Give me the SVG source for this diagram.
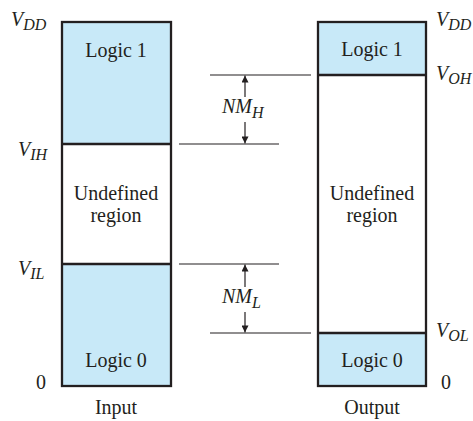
<svg xmlns="http://www.w3.org/2000/svg" width="473" height="421" viewBox="0 0 473 421">
<defs>
<style>
.box{fill:#c8e9f8;stroke:none}
.frame{fill:none;stroke:#231f20;stroke-width:2.3}
.div{stroke:#231f20;stroke-width:2.3}
.ln{stroke:#231f20;stroke-width:1.2}
text{font-family:'Liberation Serif','Times New Roman','DejaVu Serif',serif;font-size:20px;fill:#231f20}
.c{text-anchor:middle}
.i{font-style:italic}
.s{font-size:16px}
</style>
<marker id="ah" viewBox="0 0 10 10" refX="10" refY="5" markerWidth="7" markerHeight="7" markerUnits="userSpaceOnUse" orient="auto">
<path d="M0,0 L10,5 L0,10 z" fill="#231f20"/>
</marker>
</defs>
<rect width="473" height="421" fill="#fff"/>

<g id="input">
<rect class="box" x="62" y="22" width="109" height="122"/>
<rect class="box" x="62" y="264" width="109" height="122"/>
<rect class="frame" x="62" y="22" width="109" height="364"/>
<line class="div" x1="62" y1="144" x2="171" y2="144"/>
<line class="div" x1="62" y1="264" x2="171" y2="264"/>
<text class="c" x="116" y="57">Logic 1</text>
<text class="c" x="116" y="200">Undefined</text>
<text class="c" x="116" y="222">region</text>
<text class="c" x="116" y="367">Logic 0</text>
<text class="c" x="116" y="414">Input</text>
</g>

<g id="output">
<rect class="box" x="318" y="22" width="108" height="53"/>
<rect class="box" x="318" y="333" width="108" height="53"/>
<rect class="frame" x="318" y="22" width="108" height="364"/>
<line class="div" x1="318" y1="75" x2="426" y2="75"/>
<line class="div" x1="318" y1="333" x2="426" y2="333"/>
<text class="c" x="372" y="56">Logic 1</text>
<text class="c" x="372" y="200">Undefined</text>
<text class="c" x="372" y="222">region</text>
<text class="c" x="372" y="367">Logic 0</text>
<text class="c" x="372" y="414">Output</text>
</g>

<g id="input-labels">
<text class="i" x="11" y="26">V<tspan class="s" dy="4">DD</tspan></text>
<text class="i" x="18" y="156">V<tspan class="s" dy="4">IH</tspan></text>
<text class="i" x="18" y="275">V<tspan class="s" dy="4">IL</tspan></text>
<text x="36" y="389">0</text>
</g>

<g id="output-labels">
<text class="i" x="436" y="26">V<tspan class="s" dy="4">DD</tspan></text>
<text class="i" x="436" y="80">V<tspan class="s" dy="4">OH</tspan></text>
<text class="i" x="436" y="337">V<tspan class="s" dy="4">OL</tspan></text>
<text x="441" y="389">0</text>
</g>

<g id="connectors">
<line class="ln" x1="210" y1="75" x2="311" y2="75"/>
<line class="ln" x1="179" y1="144" x2="279" y2="144"/>
<line class="ln" x1="179" y1="264" x2="279" y2="264"/>
<line class="ln" x1="210" y1="333" x2="311" y2="333"/>
<line class="ln" x1="245" y1="97" x2="245" y2="75.6" marker-end="url(#ah)"/>
<line class="ln" x1="245" y1="122" x2="245" y2="143.4" marker-end="url(#ah)"/>
<line class="ln" x1="245" y1="287" x2="245" y2="264.6" marker-end="url(#ah)"/>
<line class="ln" x1="245" y1="312" x2="245" y2="332.4" marker-end="url(#ah)"/>
</g>

<g id="nm-labels">
<text class="i" x="222" y="113">NM<tspan class="s" dy="5">H</tspan></text>
<text class="i" x="222" y="303">NM<tspan class="s" dy="5">L</tspan></text>
</g>
</svg>
